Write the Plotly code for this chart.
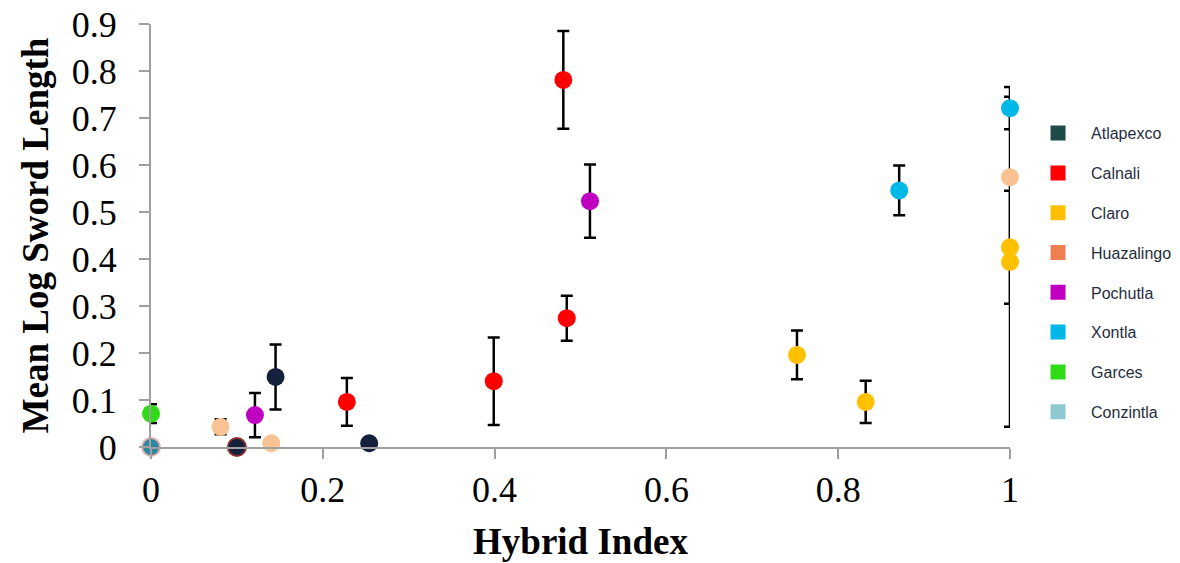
import plotly.graph_objects as go

populations = ["Atlapexco", "Calnali", "Claro", "Huazalingo", "Pochutla", "Xontla", "Garces", "Conzintla"]

atlapexco_x = [0.100, 0.145, 0.254]
atlapexco_y = [0.000, 0.149, 0.008]
atlapexco_err = [0.0, 0.069, 0.0]

calnali_x = [0.228, 0.399, 0.484, 0.480]
calnali_y = [0.096, 0.140, 0.274, 0.781]
calnali_err = [0.051, 0.093, 0.048, 0.104]

claro_x = [0.752, 0.832, 1.0, 1.0]
claro_y = [0.196, 0.096, 0.425, 0.394]
claro_err = [0.052, 0.045, 0.120, 0.351]

huazalingo_x = [0.081, 0.140, 1.0]
huazalingo_y = [0.043, 0.008, 0.574]
huazalingo_err = [0.016, 0.0, 0.0]

pochutla_x = [0.121, 0.511]
pochutla_y = [0.068, 0.523]
pochutla_err = [0.047, 0.078]

xontla_x = [0.871, 1.0]
xontla_y = [0.546, 0.721]
xontla_err = [0.053, 0.045]

garces_x = [0.0]
garces_y = [0.071]
garces_err = [0.020]

conzintla_x = [0.0]
conzintla_y = [0.0]
conzintla_err = [0.0]

marker_colors = ["#14213d", "#ff0000", "#ffc000", "#f9c293", "#c000c0", "#00b8e6", "#2edc16", "#2e86a0"]
legend_colors = ["#1f4a4a", "#ff0000", "#ffc000", "#f07f4f", "#c000c0", "#00b8e6", "#2edc16", "#8ec8d0"]

series = [
    (atlapexco_x, atlapexco_y, atlapexco_err),
    (calnali_x, calnali_y, calnali_err),
    (claro_x, claro_y, claro_err),
    (huazalingo_x, huazalingo_y, huazalingo_err),
    (pochutla_x, pochutla_y, pochutla_err),
    (xontla_x, xontla_y, xontla_err),
    (garces_x, garces_y, garces_err),
    (conzintla_x, conzintla_y, conzintla_err),
]

# outlines seen on overlapping points
outline_colors = {
    "Atlapexco": ["#8b3030", "rgba(0,0,0,0)", "rgba(0,0,0,0)"],
    "Conzintla": ["#e2b2b2"],
}

fig = go.Figure()

# error bars first (under all markers)
for name, (xs, ys, es) in zip(populations, series):
    fig.add_trace(go.Scatter(
        x=xs, y=ys, mode="markers",
        marker=dict(size=18, color="rgba(0,0,0,0)"),
        error_y=dict(type="data", array=es, visible=True, color="black", thickness=2.5, width=6),
        showlegend=False, hoverinfo="skip", cliponaxis=False,
    ))

# markers
for name, col, (xs, ys, es) in zip(populations, marker_colors, series):
    lc = outline_colors.get(name, ["rgba(0,0,0,0)"] * len(xs))
    fig.add_trace(go.Scatter(
        x=xs, y=ys, mode="markers", name=name,
        marker=dict(size=18, color=col, line=dict(color=lc, width=2)),
        showlegend=False, cliponaxis=False,
    ))

# legend entries
for name, col in zip(populations, legend_colors):
    fig.add_trace(go.Scatter(
        x=[None], y=[None], mode="markers", name=name, legendgroup=name,
        marker=dict(size=15, color=col, symbol="square"),
    ))

axis_font = dict(family="Liberation Serif", size=36, color="black")
title_font = dict(family="Liberation Serif", size=37, color="black")

fig.update_layout(
    width=1180, height=563,
    margin=dict(l=151, r=170, t=24, b=116, autoexpand=False),
    plot_bgcolor="white", paper_bgcolor="white",
    showlegend=True,
    legend=dict(
        x=1.0175, y=0.782, xanchor="left", yanchor="top",
        font=dict(family="Liberation Sans", size=16, color="#1f2d3d"),
        tracegroupgap=16, itemwidth=56, bgcolor="rgba(0,0,0,0)",
    ),
    xaxis=dict(
        range=[0, 1], tickvals=[0, 0.2, 0.4, 0.6, 0.8, 1], ticktext=["0", "0.2", "0.4", "0.6", "0.8", "1"],
        showgrid=False, zeroline=False, showline=True, linecolor="#a0a0a0", linewidth=2,
        ticks="outside", ticklen=10, tickwidth=2, tickcolor="#a0a0a0",
        tickfont=axis_font, ticklabelstandoff=0, automargin=False, ticklabeloverflow="allow",
        title=dict(text="<b>Hybrid Index</b>", font=title_font, standoff=19),
    ),
    yaxis=dict(
        range=[0, 0.9], tickvals=[0, 0.1, 0.2, 0.3, 0.4, 0.5, 0.6, 0.7, 0.8, 0.9],
        ticktext=["0", "0.1", "0.2", "0.3", "0.4", "0.5", "0.6", "0.7", "0.8", "0.9"],
        showgrid=False, zeroline=False, showline=True, linecolor="#a0a0a0", linewidth=2,
        ticks="outside", ticklen=10, tickwidth=2, tickcolor="#a0a0a0",
        tickfont=axis_font, ticklabelstandoff=15, automargin=False, ticklabeloverflow="allow",
        title=dict(text="<b>Mean Log Sword Length</b>", font=title_font, standoff=12),
    ),
)

fig.write_html("out.html", config={"displayModeBar": False},
               post_script="document.body.style.margin='0';")
